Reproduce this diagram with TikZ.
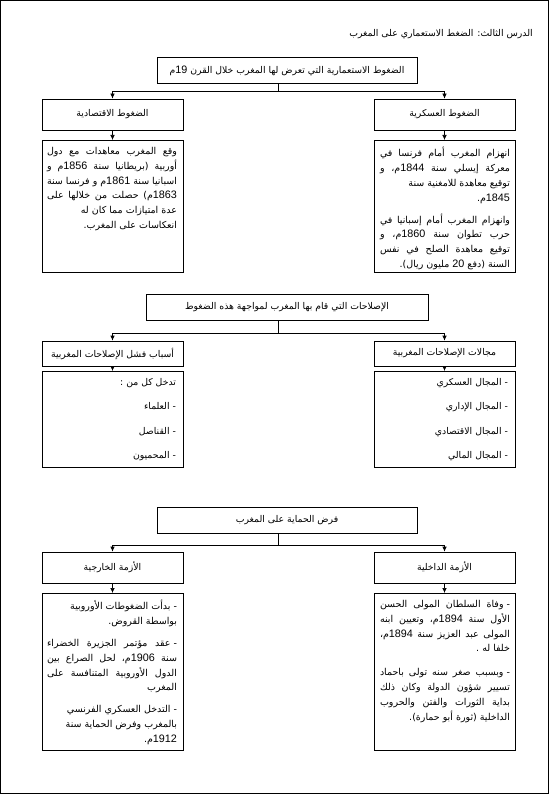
\documentclass[tikz,border=0pt]{standalone}
\usepackage{fontspec}
\usepackage{tikz}
\usetikzlibrary{arrows.meta}
\usetikzlibrary{positioning}
\usetikzlibrary{math}
\TeXXeTstate=1
\newfontfamily\arabicfont[Script=Arabic]{DejaVu Sans}
\newfontfamily\latinfont{Liberation Sans}
\newcommand{\yr}[1]{{\latinfont\fontsize{10.8}{12}\selectfont #1}}
\newcommand{\rtl}[1]{\beginR #1\endR}
\newcommand{\fl}[1]{\hbox to 130pt{\beginR #1\endR}}
\newcommand{\dash}{-\hspace{3pt}}
\tikzstyle{headbox} = [draw, minimum height=26pt, inner sep=0pt, font=\arabicfont\fontsize{9.3}{12}\selectfont]
\tikzstyle{subbox} = [draw, minimum width=141pt, minimum height=31pt, inner sep=0pt, font=\arabicfont\fontsize{9.3}{12}\selectfont]
\tikzstyle{panel} = [draw, minimum width=141pt, inner sep=0pt, anchor=north]
\tikzstyle{paneltext} = [anchor=north east, align=right, inner sep=0pt, font=\arabicfont\fontsize{9.5}{14.8}\selectfont]
\tikzstyle{link} = [-{Latex[length=5pt,width=4.5pt]}]

\begin{document}
\begin{tikzpicture}[x=1pt, y=-1pt, line width=0.65pt]

  \tikzmath{\xl = 112.5; \xr = 444.5; \xs = 278;}

  \useasboundingbox (0,0) rectangle (549,794);
  \draw[line width=1.4pt] (0.7,0.7) rectangle (548.3,793.3);

  \node[anchor=east, inner sep=0pt, font=\arabicfont\fontsize{9.3}{12}\selectfont] (lesson) at (533,34)
    {\rtl{الدرس الثالث: الضغط الاستعماري على المغرب}};

  % first part
  \node[headbox, minimum width=260pt] (pres) at (287,70.5)
    {\rtl{الضغوط الاستعمارية التي تعرض لها المغرب خلال القرن \yr{19}م}};
  \node[subbox] (eco) at (\xl,114.5) {\rtl{الضغوط الاقتصادية}};
  \node[subbox] (mil) at (\xr,114.5) {\rtl{الضغوط العسكرية}};
  \node[panel, minimum height=132pt] (ecoBox) at (\xl,140) {};
  \node[panel, minimum height=132pt] (milBox) at (\xr,140) {};
  \node[paneltext] (ecoTxt) at ([shift={(-6pt,-7pt)}]ecoBox.north east)
    {\fl{وقع المغرب معاهدات مع دول}\\
     \fl{أوربية (بريطانيا سنة \yr{1856}م و}\\
     \fl{اسبانيا سنة \yr{1861}م و فرنسا سنة}\\
     \fl{\yr{1863}م) حصلت من خلالها على}\\
     \rtl{عدة امتيازات مما كان له}\\
     \rtl{انعكاسات على المغرب.}};
  \node[paneltext] (milTxt) at ([shift={(-5pt,-7pt)}]milBox.north east)
    {\fl{انهزام المغرب أمام فرنسا في}\\
     \fl{معركة إيسلي سنة \yr{1844}م، و}\\
     \rtl{توقيع معاهدة للامغنية سنة}\\
     \rtl{\yr{1845}م.}\\[7pt]
     \fl{وانهزام المغرب أمام إسبانيا في}\\
     \fl{حرب تطوان سنة \yr{1860}م، و}\\
     \fl{توقيع معاهدة الصلح  في نفس}\\
     \rtl{السنة (دفع \yr{20} مليون ريال).}};

  \draw[link] ([xshift=-9pt]pres.south) -- ++(0,8) coordinate (split1) -| (eco.north);
  \draw[link] (split1) -| (mil.north);
  \draw[link] (eco.south) -- (ecoBox.north);
  \draw[link] (mil.south) -- (milBox.north);

  % second part
  \node[headbox, minimum width=282pt] (reform) at (287,307)
    {\rtl{الإصلاحات التي قام بها المغرب لمواجهة هذه الضغوط}};
  \node[subbox, minimum height=25pt] (fail) at (\xl,353.5) {\rtl{أسباب فشل الإصلاحات المغربية}};
  \node[subbox, minimum height=25pt] (field) at (\xr,353.5) {\rtl{مجالات الإصلاحات المغربية}};
  \node[panel, minimum height=96pt] (failBox) at (\xl,371) {};
  \node[panel, minimum height=96pt] (fieldBox) at (\xr,371) {};
  \node[paneltext, font=\arabicfont\fontsize{9.3}{24.5}\selectfont] (failTxt) at ([shift={(-7pt,-7pt)}]failBox.north east)
    {\rtl{تدخل كل من :}\\ \rtl{\dash العلماء}\\ \rtl{\dash القناصل}\\ \rtl{\dash المحميون}};
  \node[paneltext, font=\arabicfont\fontsize{9.3}{24.5}\selectfont] (fieldTxt) at ([shift={(-7pt,-7pt)}]fieldBox.north east)
    {\rtl{\dash المجال العسكري}\\ \rtl{\dash المجال الإداري}\\ \rtl{\dash المجال الاقتصادي}\\ \rtl{\dash المجال المالي}};

  \draw[link] (reform.south -| \xs,0) -- ++(0,13) coordinate (split2) -| (fail.north);
  \draw[link] (split2) -| (field.north);
  \draw[link] (fail.south) -- (failBox.north);
  \draw[link] (field.south) -- (fieldBox.north);

  % third part
  \node[headbox, minimum width=260pt] (prot) at (287,520) {\rtl{فرض الحماية على المغرب}};
  \node[subbox] (ext) at (\xl,567.5) {\rtl{الأزمة الخارجية}};
  \node[subbox] (int) at (\xr,567.5) {\rtl{الأزمة الداخلية}};
  \node[panel, minimum height=157pt] (extBox) at (\xl,593) {};
  \node[panel, minimum height=157pt] (intBox) at (\xr,593) {};
  \node[paneltext] (extTxt) at ([shift={(-6pt,-7pt)}]extBox.north east)
    {\rtl{\dash بدأت الضغوطات الأوروبية}\\
     \rtl{بواسطة القروض.}\\[7pt]
     \fl{\dash عقد مؤتمر الجزيرة الخضراء}\\
     \fl{سنة \yr{1906}م، لحل الصراع بين}\\
     \fl{الدول الأوروبية المتنافسة على}\\
     \rtl{المغرب}\\[7pt]
     \rtl{\dash التدخل العسكري الفرنسي}\\
     \rtl{بالمغرب وفرض الحماية سنة}\\
     \rtl{\yr{1912}م.}};
  \node[paneltext] (intTxt) at ([shift={(-5pt,-7pt)}]intBox.north east)
    {\fl{\dash وفاة السلطان المولى الحسن}\\
     \fl{الأول سنة \yr{1894}م، وتعيين ابنه}\\
     \fl{المولى عبد العزيز سنة \yr{1894}م،}\\
     \rtl{خلفا له .}\\[9pt]
     \fl{\dash وبسبب صغر سنه تولى  باحماد}\\
     \fl{تسيير شؤون الدولة وكان ذلك}\\
     \fl{بداية الثورات والفتن والحروب}\\
     \rtl{الداخلية (ثورة أبو حمارة).}};

  \draw[link] ([xshift=-9pt]prot.south) -- ++(0,12) coordinate (split3) -| (ext.north);
  \draw[link] (split3) -| (int.north);
  \draw[link] (ext.south) -- (extBox.north);
  \draw[link] (int.south) -- (intBox.north);

\end{tikzpicture}
\end{document}
